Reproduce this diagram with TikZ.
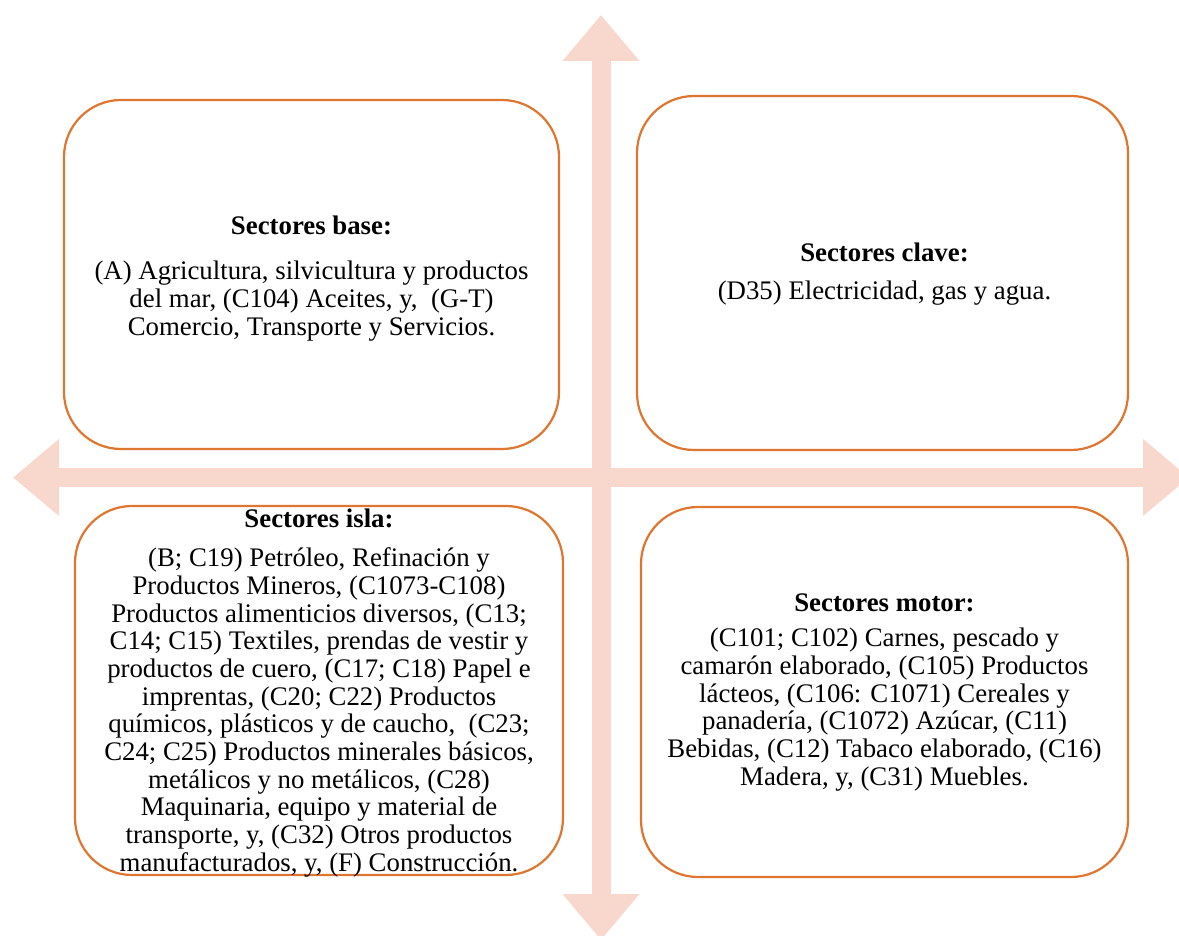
\documentclass[tikz,border=0pt]{standalone}
\usepackage{fontspec}
\setmainfont{Liberation Serif}
\usepackage{tikz}
\usetikzlibrary{arrows.meta}
\definecolor{ejecolor}{RGB}{248,215,204}
\definecolor{bordecolor}{RGB}{222,118,48}
\tikzset{
    sectorbox/.style={draw=bordecolor, line width=1.1pt, rounded corners=28.5pt,
        fill=white, inner sep=0pt, outer sep=0pt},
    sectortext/.style={anchor=north, align=center, inner sep=0pt,
        font=\fontsize{13.4}{13.85}\selectfont},
    ejearrow/.style={draw=ejecolor, line width=9.5pt,
        {Triangle[width=37pt,length=23pt,fill=ejecolor]}-{Triangle[width=37pt,length=23pt,fill=ejecolor]}}
}

\begin{document}
\begin{tikzpicture}[x=0.5pt, y=-0.5pt]
            \useasboundingbox (0,0) rectangle (1179,936);
            \clip (0,0) rectangle (1179,936);
            % axis
            \coordinate (arriba) at (601,15);
            \coordinate (abajo)  at (601,940);
            \coordinate (izq)    at (13,477.5);
            \coordinate (der)    at (1189,477.5);
            \draw[ejearrow] (abajo) -- (arriba);
            \draw[ejearrow] (izq) -- (der);
            % boxes
            \node[sectorbox, minimum width=247.5pt, minimum height=174.5pt] (base)  at (311.5,274.5) {};
            \node[sectorbox, minimum width=245.5pt, minimum height=177pt]   (clave) at (882.5,273) {};
            \node[sectorbox, minimum width=244pt,   minimum height=184.5pt] (isla)  at (319,690.5) {};
            \node[sectorbox, minimum width=243.5pt, minimum height=185pt]   (motor) at (884.5,692) {};
            % texts
            \node[sectortext] (base text) at (311.5,216) {\textbf{Sectores base:}\\[8.5pt]
                (A) Agricultura, silvicultura y productos\\
                del mar, (C104) Aceites, y,\ \ (G-T)\\
                Comercio, Transporte y Servicios.};
            \node[sectortext] (clave text) at (884.5,243) {\textbf{Sectores clave:}\\[5pt]
                (D35) Electricidad, gas y agua.};
            \node[sectortext] (isla text) at (319,509) {\textbf{Sectores isla:}\\[5.5pt]
                (B; C19) Petróleo, Refinación y\\
                Productos Mineros, (C1073-C108)\\
                Productos alimenticios diversos, (C13;\\
                C14; C15) Textiles, prendas de vestir y\\
                productos de cuero, (C17; C18) Papel e\\
                imprentas, (C20; C22) Productos\\
                químicos, plásticos y de caucho,\ \ (C23;\\
                C24; C25) Productos minerales básicos,\\
                metálicos y no metálicos, (C28)\\
                Maquinaria, equipo y material de\\
                transporte, y, (C32) Otros productos\\
                manufacturados, y, (F) Construcción.};
            \node[sectortext] (motor text) at (884.5,593) {\textbf{Sectores motor:}\\[4pt]
                (C101; C102) Carnes, pescado y\\
                camarón elaborado, (C105) Productos\\
                lácteos, (C106: C1071) Cereales y\\
                panadería, (C1072) Azúcar, (C11)\\
                Bebidas, (C12) Tabaco elaborado, (C16)\\
                Madera, y, (C31) Muebles.};
        \end{tikzpicture}
\end{document}
